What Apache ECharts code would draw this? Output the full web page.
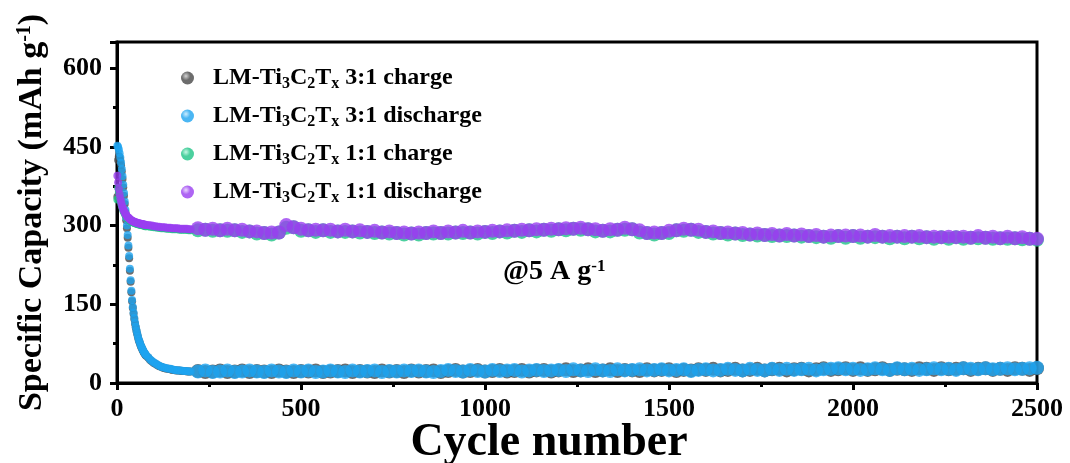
<!DOCTYPE html>
<html><head><meta charset="utf-8">
<script src="https://cdn.jsdelivr.net/npm/echarts@6/dist/echarts.min.js"></script>
<style>html,body{margin:0;padding:0;background:#fff}#c{width:1070px;height:463px}</style>
</head><body><div id="c"></div>
<script>
// ---------- data ----------
const cycles = [
 1,3,5,7,9,11,13,15,17,19, 21,23,25,27,29,31,33,35,37,39,
 41,43,45,47,49,51,53,55,57,59, 61,63,65,67,69,71,73,75,77,79,
 85,90,95,100,105,110,115,120,125,130, 135,140,145,150,155,160,165,170,175,180,
 185,190,195,200,
 220,240,260,280,300,320,340,360,380,400, 420,440,460,480,500,520,540,560,580,600,
 620,640,660,680,700,720,740,760,780,800, 820,840,860,880,900,920,940,960,980,1000,
 1020,1040,1060,1080,1100,1120,1140,1160,1180,1200, 1220,1240,1260,1280,1300,1320,1340,1360,1380,1400,
 1420,1440,1460,1480,1500,1520,1540,1560,1580,1600, 1620,1640,1660,1680,1700,1720,1740,1760,1780,1800,
 1820,1840,1860,1880,1900,1920,1940,1960,1980,2000, 2020,2040,2060,2080,2100,2120,2140,2160,2180,2200,
 2220,2240,2260,2280,2300,2320,2340,2360,2380,2400, 2420,2440,2460,2480,2500
];
const charge31 = [
 355,425,432,430,424,415,403,389,373,357, 341,325,310,295,277,258,238,214,193,173,
 156,143,132,122,113,106,99,93,87,82, 78,74,70,67,64,61,58,56,54,52,
 48,44,41,38,36,34,32,31,29,28, 27,27,26,25,25,24,24,24,23,23,
 23,22,22,22,
 23,21,22,24,21,22,24,21,23,22, 21,24,22,21,23,22,24,21,22,23,
 24,21,23,22,21,24,22,23,21,24, 22,23,24,21,23,25,22,23,25,22,
 23,25,22,23,25,22,24,25,22,24, 26,23,24,26,23,24,26,23,25,24,
 23,26,24,25,26,23,25,24,26,25, 27,24,25,27,24,25,27,24,26,27,
 24,26,27,24,26,28,25,26,28,25, 28,25,26,28,25,27,26,25,28,27,
 25,28,26,27,28,25,27,28,25,27, 25,28,27,25,28
];
const discharge31 = [
 452,450,445,438,430,420,408,394,378,362, 346,330,315,300,282,262,242,218,196,176,
 158,145,134,124,115,107,100,94,88,83, 79,75,71,68,65,62,59,57,55,53,
 49,45,42,39,37,35,33,31,30,29, 28,27,27,26,25,25,24,24,24,23,
 23,23,22,22,
 22,24,21,22,24,21,22,24,22,21, 24,22,21,24,22,24,21,22,24,22,
 21,24,22,23,24,21,23,22,24,23, 24,22,21,23,25,23,22,25,23,22,
 25,23,24,25,22,24,25,23,24,25, 23,26,24,23,26,24,23,26,24,25,
 26,24,25,26,24,25,26,23,25,26, 24,25,27,25,24,27,25,24,27,25,
 27,25,26,27,24,26,27,28,26,27, 25,26,28,26,25,28,26,27,25,26,
 28,26,27,25,28,27,26,28,26,27, 28,26,27,28,29
];
const charge11 = [
 350,372,364,356,349,343,338,333,329,326, 323,320,318,316,314,313,312,310,309,308,
 307,307,306,305,305,304,304,303,303,302, 302,302,301,301,301,300,300,300,299,299,
 299,298,298,297,297,296,296,295,295,295, 294,294,294,293,293,293,293,292,292,292,
 292,292,291,291,
 291,292,290,291,290,291,288,289,285,286, 283,287,296,297,290,291,288,291,288,289,
 288,289,287,288,286,287,285,286,283,285, 283,286,285,286,285,287,286,287,285,288,
 286,289,287,290,288,291,289,292,290,293, 291,294,292,293,289,290,289,292,292,293,
 287,286,283,286,286,291,290,292,288,288, 285,286,283,285,282,283,281,282,280,281,
 280,281,279,280,278,279,277,280,277,280, 277,279,278,279,276,279,276,279,276,278,
 275,278,275,278,275,277,276,277,275,276, 275,276,274,275,273
];
const discharge11 = [
 395,382,370,360,352,346,340,335,331,328, 325,322,320,318,316,315,314,312,311,310,
 309,309,308,307,307,306,306,305,305,304, 304,304,303,303,303,302,302,302,301,301,
 301,300,300,299,299,298,298,297,297,297, 296,296,296,295,295,295,295,294,294,294,
 294,294,293,293,
 295,292,294,291,294,291,292,289,289,286, 287,287,301,297,294,291,292,291,292,289,
 292,289,291,288,290,287,289,286,287,285, 287,286,289,286,289,287,290,287,289,288,
 290,289,291,290,292,291,293,292,294,293, 295,294,296,293,293,290,293,292,296,293,
 291,286,287,286,290,291,294,292,292,288, 289,286,287,285,286,283,285,282,284,281,
 284,281,283,280,282,279,281,280,281,280, 281,279,282,279,280,279,280,279,280,278,
 279,278,279,278,279,277,280,277,279,276, 279,276,278,275,275
];
const xTicks = [0, 500, 1000, 1500, 2000, 2500];
const yTicks = [0, 150, 300, 450, 600];
const seriesNames = ['LM-Ti3C2Tx 3:1 charge','LM-Ti3C2Tx 3:1 discharge','LM-Ti3C2Tx 1:1 charge','LM-Ti3C2Tx 1:1 discharge'];
const seriesValues = [charge31, discharge31, charge11, discharge11];
const seriesColors = ['#484848','#1ea4f0','#1fc486','#9a3ff0'];
const seriesLight  = ['#c8c8c8','#bfe8ff','#b8f5dd','#e6ccff'];

// ---------- chart ----------
const FONT = '"Liberation Serif","Times New Roman",serif';
const chart = echarts.init(document.getElementById('c'), null, {renderer:'canvas'});
function sphere(i){
  return {type:'radial', x:0.38, y:0.35, r:0.6, colorStops:[
    {offset:0, color:seriesLight[i]}, {offset:0.55, color:seriesColors[i]}, {offset:1, color:seriesColors[i]}]};
}
const series = seriesNames.map((n,i)=>({
  name:n, type:'scatter', symbol:'circle',
  symbolSize: v => (v[0] <= 200 ? 8 : 14),
  data: cycles.map((c,k)=>[c, seriesValues[i][k]]),
  itemStyle:{color:seriesColors[i]},
  emphasis:{disabled:true}, animation:false, z:2+i
}));
chart.setOption({
  animation:false,
  grid:{left:117, right:33, top:42, bottom:80, outerBoundsMode:'none', containLabel:false,
    show:true, borderColor:'#000', borderWidth:3, backgroundColor:'transparent'},
  legend:{
    orient:'vertical', left:176, top:59, itemWidth:13, itemHeight:13, itemGap:10,
    icon:'circle', selectedMode:false,
    data: seriesNames.map((n,i)=>({name:n, itemStyle:{color:sphere(i)}})),
    formatter: n => n.replace('Ti3C2Tx','Ti{s|3}C{s|2}T{s|x}'),
    textStyle:{fontFamily:FONT, fontWeight:'bold', fontSize:24, color:'#000', lineHeight:28, padding:[0,0,0,14],
      rich:{s:{fontFamily:FONT, fontWeight:'bold', fontSize:16, lineHeight:12, verticalAlign:'bottom', color:'#000'}}}
  },
  xAxis:{
    type:'value', min:0, max:2500, interval:500,
    name:'Cycle number', nameLocation:'middle', nameGap:37, nameMoveOverlap:false,
    nameTextStyle:{fontFamily:FONT, fontWeight:'bold', fontSize:46, color:'#000', padding:[0,56,0,0]},
    axisLine:{show:true, onZero:false, lineStyle:{color:'#000', width:3}},
    axisTick:{show:true, inside:false, length:7, lineStyle:{width:3, color:'#000'}},
    minorTick:{show:true, splitNumber:2, length:4, lineStyle:{width:3, color:'#000'}},
    axisLabel:{fontFamily:FONT, fontWeight:'bold', fontSize:26, color:'#000', margin:13,
      formatter: v => xTicks.includes(v) ? String(v) : ''},
    splitLine:{show:false}
  },
  yAxis:{
    type:'value', min:0, max:650, interval:150,
    name:'Specific Capacity (mAh g{sup|-1})', nameLocation:'middle', nameGap:68, nameMoveOverlap:false,
    nameTextStyle:{fontFamily:FONT, fontWeight:'bold', fontSize:34, color:'#000',
      rich:{sup:{fontFamily:FONT, fontWeight:'bold', fontSize:20, verticalAlign:'top', lineHeight:34, color:'#000'}}},
    axisLine:{show:true, onZero:false, lineStyle:{color:'#000', width:3}},
    axisTick:{show:true, inside:false, length:7, lineStyle:{width:3, color:'#000'}},
    minorTick:{show:true, splitNumber:2, length:4, lineStyle:{width:3, color:'#000'}},
    axisLabel:{fontFamily:FONT, fontWeight:'bold', fontSize:26, color:'#000', margin:15, showMaxLabel:false,
      formatter: v => yTicks.includes(v) ? String(v) : ''},
    splitLine:{show:false}
  },
  graphic:[{
    type:'text', left:503, top:258, silent:true,
    style:{text:'@5 A g{sup|-1}', fontFamily:FONT, fontWeight:'bold', fontSize:28, fill:'#000',
      rich:{sup:{fontFamily:FONT, fontWeight:'bold', fontSize:17, verticalAlign:'top', fill:'#000'}}}
  }],
  series: series
});
</script>
</body></html>
